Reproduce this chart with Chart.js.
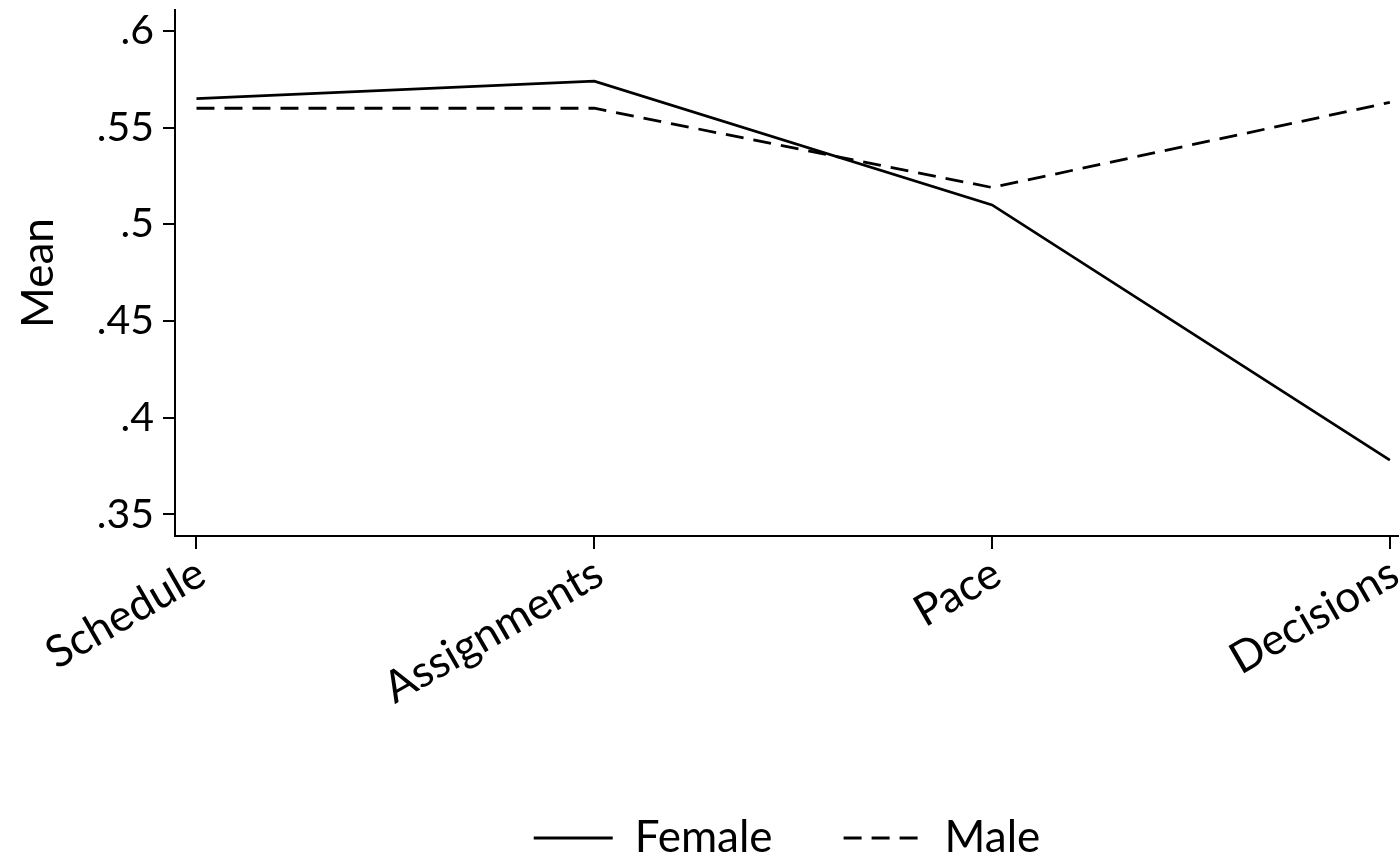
<!DOCTYPE html>
<html>
<head>
<meta charset="utf-8">
<script src="https://cdn.jsdelivr.net/npm/chart.js@4/dist/chart.umd.min.js"></script>
<style>
  html, body { margin: 0; padding: 0; background: #ffffff; }
  #wrap { width: 1399px; height: 859px; }
</style>
</head>
<body>
<div id="wrap"><canvas id="c" width="1399" height="859"></canvas></div>
<script>
const categories = ['Schedule', 'Assignments', 'Pace', 'Decisions'];
const femaleMeans = [0.565, 0.574, 0.510, 0.378];
const maleMeans = [0.560, 0.560, 0.519, 0.563];
const yTickValues = [0.35, 0.40, 0.45, 0.50, 0.55, 0.60];
const yTickLabels = ['.35', '.4', '.45', '.5', '.55', '.6'];
const seriesNames = ['Female', 'Male'];
const seriesDash = [[], [18, 10]];
const yAxisTitle = 'Mean';

const FONT = 'Lato, "DejaVu Sans", sans-serif';
const LINE_W = 2.8;
const xIdx = categories.map((c, i) => i);
const toPts = arr => arr.map((v, i) => ({ x: xIdx[i], y: v }));

Chart.defaults.font.family = FONT;
Chart.defaults.color = '#000000';

new Chart(document.getElementById('c'), {
  type: 'line',
  data: {
    datasets: [
      {
        label: seriesNames[0],
        data: toPts(femaleMeans),
        borderColor: '#000000',
        backgroundColor: '#000000',
        borderWidth: LINE_W,
        borderDash: seriesDash[0],
        pointRadius: 0,
        tension: 0,
        fill: false
      },
      {
        label: seriesNames[1],
        data: toPts(maleMeans),
        borderColor: '#000000',
        backgroundColor: '#000000',
        borderWidth: LINE_W,
        borderDash: seriesDash[1],
        pointRadius: 0,
        tension: 0,
        fill: false
      }
    ]
  },
  options: {
    responsive: false,
    animation: false,
    layout: { padding: { top: 10, right: 0, bottom: -11, left: 0 } },
    plugins: {
      tooltip: { enabled: false },
      legend: {
        position: 'bottom',
        fullSize: false,
        labels: {
          usePointStyle: true,
          pointStyle: 'line',
          pointStyleWidth: 79,
          boxHeight: 2,
          padding: 71,
          color: '#000000',
          font: { family: FONT, size: 44 },
          generateLabels: chart => {
            const items = Chart.defaults.plugins.legend.labels.generateLabels(chart);
            items.forEach(it => {
              const ds = chart.data.datasets[it.datasetIndex];
              it.lineDash = ds.borderDash || [];
              it.lineWidth = LINE_W;
              it.strokeStyle = '#000000';
              it.fillStyle = '#000000';
              it.pointStyle = 'line';
            });
            return items;
          }
        }
      }
    },
    scales: {
      x: {
        type: 'linear',
        min: -0.054,
        max: 3.023,
        afterBuildTicks: s => { s.ticks = xIdx.map(v => ({ value: v })); },
        afterFit: s => { s.height = 209; s.paddingLeft = 0; s.paddingRight = 0; },
        ticks: {
          autoSkip: false,
          minRotation: 30,
          maxRotation: 30,
          padding: -2,
          labelOffset: 5,
          color: '#000000',
          font: { family: FONT, size: 44 },
          callback: v => categories[v]
        },
        grid: {
          drawOnChartArea: false,
          drawTicks: true,
          tickLength: 13,
          color: '#000000',
          lineWidth: 2
        },
        border: { display: true, color: '#000000', width: 2 }
      },
      y: {
        type: 'linear',
        min: 0.3388,
        max: 0.6108,
        afterBuildTicks: s => { s.ticks = yTickValues.map(v => ({ value: v })); },
        afterFit: s => { s.width = 175; s.paddingTop = 0; s.paddingBottom = 0; },
        ticks: {
          padding: 9,
          color: '#000000',
          font: { family: FONT, size: 41 },
          callback: v => yTickLabels[yTickValues.findIndex(t => Math.abs(t - v) < 1e-9)]
        },
        grid: {
          drawOnChartArea: false,
          drawTicks: true,
          tickLength: 12,
          color: '#000000',
          lineWidth: 2
        },
        border: { display: true, color: '#000000', width: 2 },
        title: {
          display: true,
          text: yAxisTitle,
          color: '#000000',
          font: { family: FONT, size: 44 },
          padding: { top: 12, bottom: 0 }
        }
      }
    }
  }
});
</script>
</body>
</html>
